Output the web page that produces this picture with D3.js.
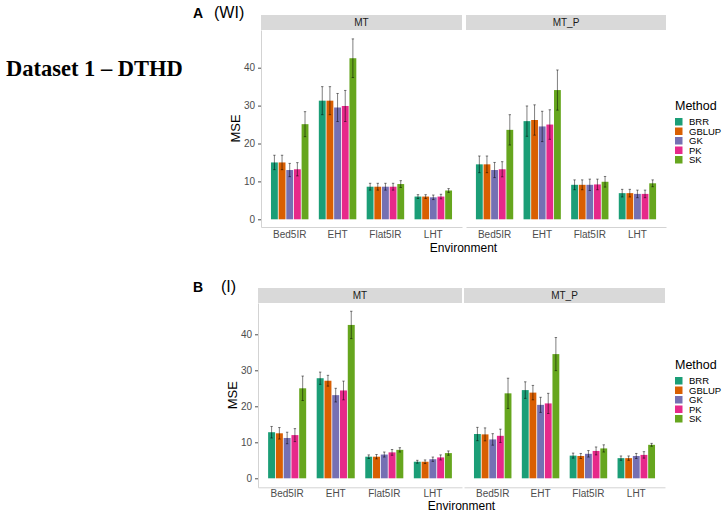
<!DOCTYPE html>
<html>
<head>
<meta charset="utf-8">
<script src="https://cdn.jsdelivr.net/npm/d3@7"></script>
<style>
  body { margin: 0; background: #fff; }
  svg { font-family: "Liberation Sans", Arial, sans-serif; display: block; }
</style>
</head>
<body>
<script>

    var methods = ["BRR", "GBLUP", "GK", "PK", "SK"];
    var environments = ["Bed5IR", "EHT", "Flat5IR", "LHT"];
    var models = ["MT", "MT_P"];
    var yTicks = [0, 10, 20, 30, 40];

    // rows = method, cols = environment
    var wiMtMean = [
        [15.0, 31.3, 8.6, 6.0],
        [15.0, 31.3, 8.6, 6.0],
        [13.0, 29.5, 8.6, 5.8],
        [13.2, 29.9, 8.6, 6.0],
        [25.1, 42.5, 9.3, 7.6]];
    var wiMtSe = [
        [1.9, 3.7, 0.9, 0.5],
        [1.9, 3.7, 0.9, 0.5],
        [1.75, 3.7, 0.9, 0.6],
        [1.75, 4.1, 0.9, 0.6],
        [3.3, 5.1, 0.9, 0.5]];
    var wiMtpMean = [
        [14.5, 25.9, 9.1, 6.9],
        [14.5, 26.2, 9.1, 6.9],
        [13.0, 24.5, 9.1, 6.7],
        [13.2, 25.0, 9.2, 6.7],
        [23.6, 34.1, 9.9, 9.5]];
    var wiMtpSe = [
        [2.2, 4.0, 1.3, 1.0],
        [2.2, 4.0, 1.3, 1.0],
        [2.0, 4.0, 1.5, 1.0],
        [2.0, 3.9, 1.4, 1.0],
        [4.0, 5.3, 1.4, 0.9]];
    var iMtMean = [
        [12.8, 27.8, 6.0, 4.6],
        [12.5, 27.1, 6.0, 4.6],
        [11.2, 23.1, 6.6, 5.3],
        [12.0, 24.4, 7.2, 5.8],
        [25.0, 42.6, 7.9, 7.0]];
    var iMtSe = [
        [1.6, 1.7, 0.5, 0.4],
        [1.6, 1.5, 0.6, 0.5],
        [1.6, 1.9, 0.7, 0.6],
        [1.8, 2.6, 0.8, 0.7],
        [3.4, 3.8, 0.6, 0.6]];
    var iMtpMean = [
        [12.3, 24.5, 6.3, 5.6],
        [12.2, 23.8, 6.2, 5.6],
        [10.8, 20.4, 6.8, 6.2],
        [11.8, 20.8, 7.6, 6.5],
        [23.6, 34.5, 8.3, 9.3]];
    var iMtpSe = [
        [1.85, 2.3, 0.7, 0.6],
        [1.8, 2.0, 0.7, 0.6],
        [1.6, 2.1, 0.9, 0.7],
        [1.85, 2.8, 1.1, 0.9],
        [4.2, 4.6, 1.0, 0.4]];

    var colors = ["#1B9E77", "#D95F02", "#7570B3", "#E7298A", "#66A61E"];
    var colorScale = d3.scaleOrdinal().domain(methods).range(colors);

    var svg = d3.select("body").append("svg")
        .attr("width", 724)
        .attr("height", 512);

    svg.append("text")
        .attr("x", 6)
        .attr("y", 76)
        .style("font-family", "'Liberation Serif', 'Times New Roman', serif")
        .style("font-weight", "bold")
        .style("font-size", "22.5px")
        .text("Dataset 1 \u2013 DTHD");

    // layout of each of the two plots
    var panels = [
        { letter: "A", tag: "(WI)", letterY: 18, tagX: 214, envY: 252, tickPad: 4,
          stripTop: 15, top: 30, bottom: 227, y0: 219.3, y40: 67.7,
          facets: [[261, 462], [466, 666]], legendY: 106,
          data: [[wiMtMean, wiMtSe], [wiMtpMean, wiMtpSe]] },
        { letter: "B", tag: "(I)", letterY: 292, tagX: 221, envY: 509.5, tickPad: 2.5,
          stripTop: 288, top: 303, bottom: 487.3, y0: 478.3, y40: 334.3,
          facets: [[258, 462], [464, 665]], legendY: 365,
          data: [[iMtMean, iMtSe], [iMtpMean, iMtpSe]] }
    ];

    panels.forEach(function (p) {
        var g = svg.append("g");

        g.append("text")
            .attr("x", 193).attr("y", p.letterY)
            .style("font-weight", "bold").style("font-size", "14px")
            .text(p.letter);
        g.append("text")
            .attr("x", p.tagX).attr("y", p.letterY)
            .style("font-size", "16px")
            .text(p.tag);

        var y = d3.scaleLinear().domain([0, 40]).range([p.y0, p.y40]);
        y.domain([y.invert(p.bottom), y.invert(p.top)]).range([p.bottom, p.top]);

        p.facets.forEach(function (f, mi) {
            var x = d3.scaleBand()
                .domain(environments)
                .range(f)
                .paddingInner(0.2)
                .paddingOuter(0.2);
            var xm = d3.scaleBand()
                .domain(methods)
                .range([0, x.bandwidth()]);

            // strip
            g.append("rect")
                .attr("x", f[0]).attr("y", p.stripTop)
                .attr("width", f[1] - f[0]).attr("height", p.top - p.stripTop)
                .attr("fill", "#D9D9D9");
            g.append("text")
                .attr("x", (f[0] + f[1]) / 2).attr("y", (p.stripTop + p.top) / 2)
                .attr("dy", "0.35em")
                .style("text-anchor", "middle")
                .style("font-size", "10px")
                .style("fill", "#1A1A1A")
                .text(models[mi]);

            var means = p.data[mi][0], ses = p.data[mi][1];
            var rows = [];
            methods.forEach(function (m, i) {
                environments.forEach(function (e, j) {
                    rows.push({ method: m, env: e, mean: means[i][j], se: ses[i][j] });
                });
            });

            var bars = g.append("g");
            bars.selectAll("rect")
                .data(rows)
                .enter().append("rect")
                .attr("x", function (d) { return x(d.env) + xm(d.method) + 0.4; })
                .attr("width", xm.bandwidth() - 0.8)
                .attr("y", function (d) { return y(d.mean); })
                .attr("height", function (d) { return y(0) - y(d.mean); })
                .style("fill", function (d) { return colorScale(d.method); });

            var err = g.append("g")
                .attr("stroke", "#000")
                .attr("stroke-opacity", 0.5)
                .attr("stroke-width", 1);
            rows.forEach(function (d) {
                var cx = x(d.env) + xm(d.method) + xm.bandwidth() / 2;
                var lo = y(d.mean - d.se), hi = y(d.mean + d.se);
                err.append("line").attr("x1", cx).attr("x2", cx).attr("y1", lo).attr("y2", hi);
                err.append("line").attr("x1", cx - 1.2).attr("x2", cx + 1.2).attr("y1", lo).attr("y2", lo);
                err.append("line").attr("x1", cx - 1.2).attr("x2", cx + 1.2).attr("y1", hi).attr("y2", hi);
            });

            // x axis
            var xAxis = g.append("g")
                .attr("transform", "translate(0," + p.bottom + ")")
                .call(d3.axisBottom(x).tickSize(0).tickPadding(p.tickPad).tickSizeOuter(0));
            xAxis.select(".domain").attr("stroke", "#D3D3D3");
            xAxis.selectAll("text").style("font-size", "10px").style("fill", "#4D4D4D")
                .style("font-family", "'Liberation Sans', Arial, sans-serif");
        });

        // y axis
        var yAxis = g.append("g")
            .attr("transform", "translate(" + p.facets[0][0] + ",0)")
            .call(d3.axisLeft(y).tickValues(yTicks).tickSize(3).tickPadding(3).tickSizeOuter(0));
        yAxis.select(".domain").attr("stroke", "#D3D3D3");
        yAxis.selectAll(".tick line").attr("stroke", "#4D4D4D");
        yAxis.selectAll("text").style("font-size", "10px").style("fill", "#4D4D4D")
            .style("font-family", "'Liberation Sans', Arial, sans-serif");

        g.append("text")
            .attr("transform", "translate(" + (p.facets[0][0] - 21) + "," + ((p.top + p.bottom) / 2) + ") rotate(-90)")
            .style("text-anchor", "middle")
            .style("font-size", "13px")
            .text("MSE");

        g.append("text")
            .attr("x", (p.facets[0][0] + p.facets[1][1]) / 2)
            .attr("y", p.envY)
            .style("text-anchor", "middle")
            .style("font-size", "12px")
            .text("Environment");

        // legend
        var lg = g.append("g").attr("transform", "translate(675," + p.legendY + ")");
        lg.append("text")
            .attr("x", 0).attr("y", 0).attr("dy", "0.35em")
            .style("font-size", "12.5px")
            .text("Method");
        methods.forEach(function (m, i) {
            lg.append("rect")
                .attr("x", 0).attr("y", 12 + i * 9.5)
                .attr("width", 7.5).attr("height", 7.5)
                .attr("fill", colorScale(m));
            lg.append("text")
                .attr("x", 14).attr("y", 15.75 + i * 9.5).attr("dy", "0.35em")
                .style("font-size", "9.5px")
                .text(m);
        });
    });

</script>
</body>
</html>
